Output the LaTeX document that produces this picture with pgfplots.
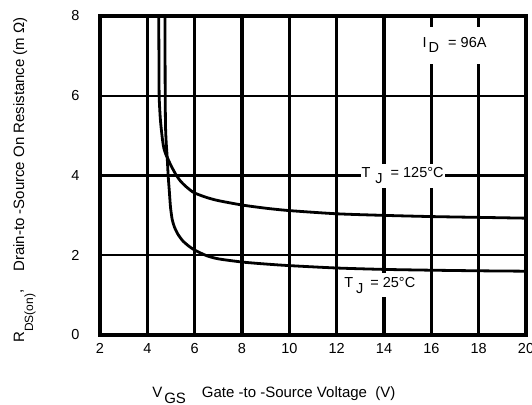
\documentclass[border=0pt]{standalone}
\usepackage{pgfplots}
\pgfplotsset{compat=1.18}
\usepackage{fontspec}
\setmainfont{Liberation Sans}
\begin{document}
\begin{tikzpicture}
\begin{axis}[
  at={(0,0)}, anchor=south west,
  scale only axis, width=426pt, height=319pt,
  xmin=2, xmax=20, ymin=0, ymax=8,
  xtick={2,4,...,20}, ytick={0,2,...,8},
  grid=major,
  major x grid style={line width=3.3pt, black},
  major y grid style={line width=2.3pt, black},
  axis line style={line width=4.2pt, line join=miter},
  tick style={draw=none},
  major tick length=0pt,
  ticklabel style={font=\fontsize{14.5}{16}\selectfont},
  /pgf/number format/assume math mode=true,
  xticklabel style={yshift=-5pt},
  yticklabel style={xshift=-17pt},
  clip mode=individual,
]
\addplot[black, line width=2.8pt, smooth, tension=0.4] coordinates {
(4.48,8.3) (4.49,7) (4.50,6) (4.54,5.5) (4.58,5.22) (4.64,4.9) (4.70,4.68) (4.78,4.53) (4.86,4.43) (5.0,4.25) (5.2,4.03) (5.4,3.86) (5.6,3.74) (5.8,3.64) (6.0,3.56) (6.5,3.45) (7.0,3.37) (8,3.26) (9,3.18) (10,3.12) (12,3.04) (14,3.0) (16,2.97) (18,2.95) (20,2.93)
};
\addplot[black, line width=2.8pt, smooth, tension=0.4] coordinates {
(4.75,8.3) (4.75,7) (4.755,6) (4.77,5.2) (4.8,4.8) (4.84,4.45) (4.88,4.0) (4.93,3.6) (4.98,3.2) (5.05,2.9) (5.15,2.7) (5.3,2.52) (5.5,2.36) (5.75,2.23) (6.0,2.13) (6.5,1.99) (7.0,1.91) (8,1.83) (9,1.78) (10,1.74) (12,1.68) (14,1.645) (16,1.625) (18,1.61) (20,1.6)
};
\node[anchor=base west, fill=white, inner xsep=1pt, inner ysep=4pt, font=\fontsize{14.5}{16}\selectfont] at (axis cs:13.0,3.94) {T\hspace{5pt}\raisebox{-6pt}{J}\hspace{8pt}= 125°C};
\node[anchor=base west, fill=white, inner xsep=1pt, inner ysep=4pt, font=\fontsize{14.5}{16}\selectfont] at (axis cs:12.27,1.20) {T\hspace{3pt}\raisebox{-6pt}{J}\hspace{7pt}= 25°C};
\node[anchor=base west, fill=white, inner xsep=3pt, inner ysep=11pt, font=\fontsize{14.5}{16}\selectfont] at (axis cs:15.5,7.20) {I\hspace{2pt}\raisebox{-5pt}{D}\hspace{9pt}= 96A};
\node[rotate=90, anchor=base west, inner sep=0pt, font=\fontsize{15}{17}\selectfont] at (axis cs:-1.211,-0.2) {R\raisebox{-9pt}{\fontsize{12}{14}\selectfont DS(on)}\raisebox{2pt}{,}\hspace{18pt}Drain-to -Source On Resistance (m Ω)};
\node[anchor=base west, inner sep=0pt, font=\fontsize{15}{17}\selectfont] at (axis cs:4.2,-1.555) {V\hspace{2pt}\raisebox{-6pt}{GS}\hspace{16pt}Gate -to -Source Voltage\ \ (V)};
\end{axis}
\pgfresetboundingbox
\path[use as bounding box] (-100pt,-69pt) rectangle (432pt,335pt);
\end{tikzpicture}
\end{document}
